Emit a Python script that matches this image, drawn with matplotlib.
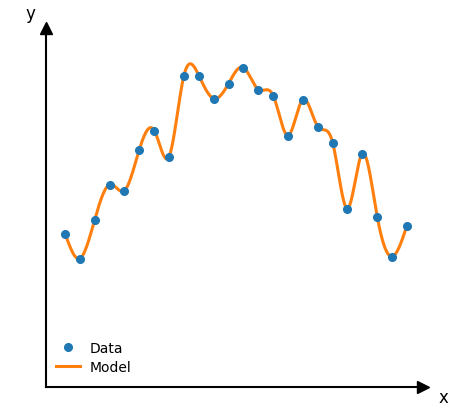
import numpy as np
import matplotlib
matplotlib.use("Agg")
import matplotlib.pyplot as plt

# --- data: observations and the interpolating model ---
x_data = np.arange(24)
y_data = [1.53, 1.28, 1.67, 2.02, 1.96, 2.37, 2.56, 2.30, 3.11, 3.11, 2.88, 3.03,
          3.19, 2.97, 2.91, 2.51, 2.87, 2.60, 2.44, 1.78, 2.33, 1.70, 1.30, 1.61]
labels = ["Data", "Model"]


def natural_spline(x, y, xs):
    # natural cubic spline through (x, y), evaluated at xs
    x = np.asarray(x, float)
    y = np.asarray(y, float)
    n = len(x)
    h = np.diff(x)
    A = np.zeros((n, n))
    b = np.zeros(n)
    A[0, 0] = A[-1, -1] = 1.0
    for i in range(1, n - 1):
        A[i, i - 1] = h[i - 1]
        A[i, i] = 2 * (h[i - 1] + h[i])
        A[i, i + 1] = h[i]
        b[i] = 3 * ((y[i + 1] - y[i]) / h[i] - (y[i] - y[i - 1]) / h[i - 1])
    c = np.linalg.solve(A, b)
    bb = (y[1:] - y[:-1]) / h - h * (2 * c[:-1] + c[1:]) / 3
    d = (c[1:] - c[:-1]) / (3 * h)
    idx = np.clip(np.searchsorted(x, xs) - 1, 0, n - 2)
    t = xs - x[idx]
    return y[idx] + bb[idx] * t + c[idx] * t**2 + d[idx] * t**3


xs = np.linspace(x_data[0], x_data[-1], 600)
ys = natural_spline(x_data, y_data, xs)

# --- plot ---
W, H = 449, 406
fig = plt.figure(figsize=(W / 100, H / 100), dpi=100)
ax = fig.add_axes([46 / W, 1 - 387.5 / H, (423 - 46) / W, (387.5 - 28.7) / H])

ax.plot(x_data, y_data, "o", color="#1f77b4", ms=5.5, zorder=3, label=labels[0])
ax.plot(xs, ys, color="#ff7f0e", lw=2.2, zorder=2, label=labels[1])

ax.set_xlim(-1.28, 24.08)
ax.set_ylim(0, 3.588)

for side in ["top", "right"]:
    ax.spines[side].set_visible(False)
for side in ["left", "bottom"]:
    ax.spines[side].set_linewidth(1.5)
ax.set_xticks([])
ax.set_yticks([])

# arrow heads at the ends of the axes
ax.plot(1, 0, ">k", ms=8.5, transform=ax.transAxes, clip_on=False)
ax.plot(0, 1, "^k", ms=8.5, transform=ax.transAxes, clip_on=False)

fig.text(30 / W, 1 - 14 / H, "y", ha="center", va="center", fontsize=12)
fig.text(443 / W, 1 - 398 / H, "x", ha="center", va="center", fontsize=12)

ax.legend(loc="lower left", frameon=False, fontsize=10, handlelength=1.7,
          handletextpad=0.75, labelspacing=0.35,
          bbox_to_anchor=(-2.5 / 377, 0.0))

fig.savefig("out.png", dpi=100)
